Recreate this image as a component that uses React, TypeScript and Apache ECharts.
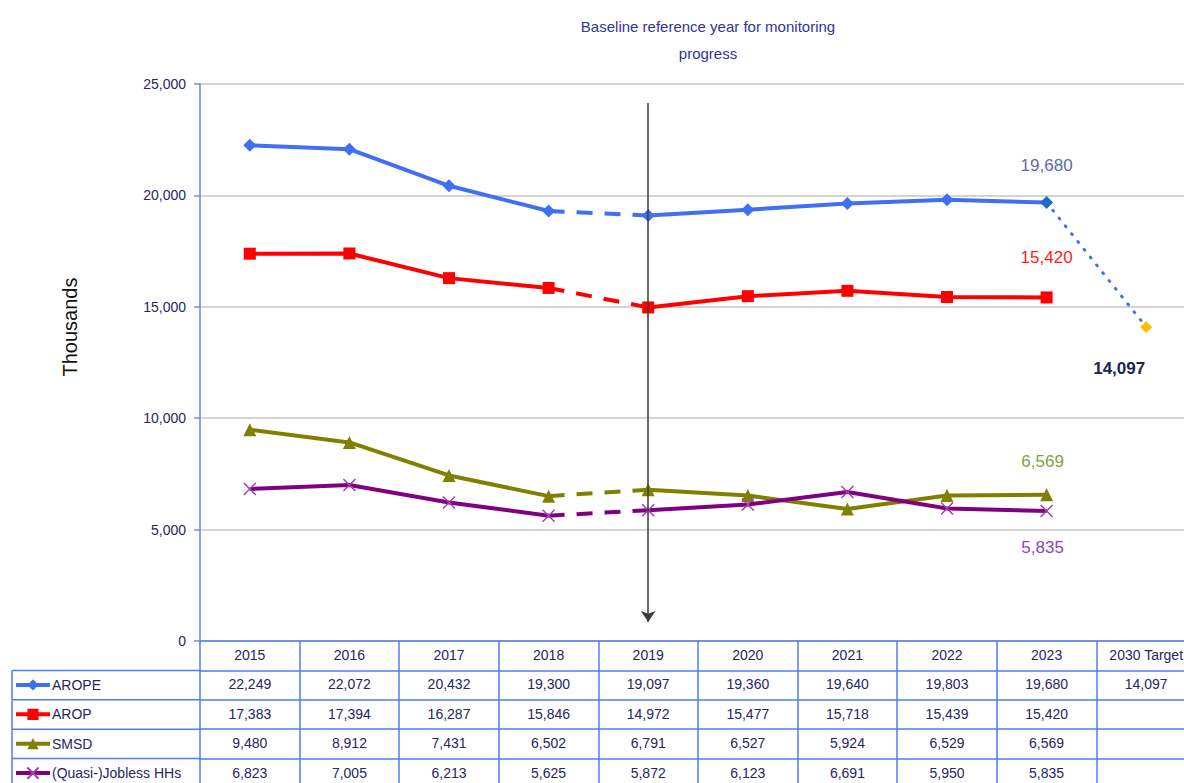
import React, { useEffect, useRef } from 'react';
import * as echarts from 'echarts';

const years = ['2015', '2016', '2017', '2018', '2019', '2020', '2021', '2022', '2023', '2030 Target'];
const arope = [22249, 22072, 20432, 19300, 19097, 19360, 19640, 19803, 19680];
const arop = [17383, 17394, 16287, 15846, 14972, 15477, 15718, 15439, 15420];
const smsd = [9480, 8912, 7431, 6502, 6791, 6527, 5924, 6529, 6569];
const jobless = [6823, 7005, 6213, 5625, 5872, 6123, 6691, 5950, 5835];
const aropeTarget = 14097;
const seriesNames = ['AROPE', 'AROP', 'SMSD', '(Quasi-)Jobless HHs'];
const yMin = 0;
const yMax = 25000;
const yInterval = 5000;
const baselineYear = '2019';
const arrowFrom = 24150;
const arrowTo = 850;

const fmt = (v: number | null | undefined) =>
  v === null || v === undefined ? '' : Number(v).toLocaleString('en-US');

const FONT = 'Arial, "Liberation Sans", sans-serif';
const NAVY = '#272562';
const TABLE_BLUE = '#4f7cf2';

const seg = (vals: number[], from: number, to: number) =>
  years.map((_, i) => (i >= from && i <= to && i < vals.length ? vals[i] : null));

type LabelCfg = { offset: number[]; color: string; fontWeight?: string };

function indicator(
  name: string,
  vals: number[],
  color: string,
  symbol: string,
  symbolSize: number,
  itemStyle: any,
  lastLabel: LabelCfg,
  lastItemStyle?: any
) {
  const base = {
    type: 'line',
    showSymbol: true,
    showAllSymbol: true,
    symbol,
    symbolSize,
    itemStyle,
    lineStyle: { color, width: 4 },
    emphasis: { disabled: true },
    z: 3,
  };
  const last = seg(vals, 4, 8).map((v, i) =>
    i === 8
      ? {
          value: v,
          itemStyle: lastItemStyle,
          label: {
            show: true,
            position: 'inside',
            offset: lastLabel.offset,
            color: lastLabel.color,
            fontSize: 17,
            fontFamily: FONT,
            fontWeight: lastLabel.fontWeight || 'normal',
            formatter: (p: any) => fmt(p.value),
          },
        }
      : v
  );
  return [
    { ...base, name, data: seg(vals, 0, 3) },
    {
      ...base,
      name: name + ' (series break)',
      data: seg(vals, 3, 4),
      symbol: 'none',
      lineStyle: { color, width: 4, type: [16, 12] },
    },
    { ...base, name, data: last },
  ];
}

const tableRows: (number | null)[][] = [
  [...arope, aropeTarget],
  [...arop, null],
  [...smsd, null],
  [...jobless, null],
];

const ROW_H = 29.4;

function buildOption(): any {
  const xAxes: any[] = [
    {
      type: 'category',
      data: years,
      boundaryGap: true,
      position: 'bottom',
      axisLine: { show: true, lineStyle: { color: TABLE_BLUE, width: 1.5 } },
      axisTick: { show: true, length: 142, lineStyle: { color: TABLE_BLUE, width: 1.5 } },
      axisLabel: { color: NAVY, fontSize: 14, fontFamily: FONT, margin: 7, interval: 0 },
      splitLine: { show: false },
    },
  ];
  tableRows.forEach((row, r) => {
    xAxes.push({
      type: 'category',
      data: years,
      boundaryGap: true,
      position: 'bottom',
      offset: ROW_H * (r + 1),
      axisLine: { show: true, lineStyle: { color: TABLE_BLUE, width: 1.5 } },
      axisTick: { show: false },
      axisLabel: {
        color: NAVY,
        fontSize: 14,
        fontFamily: FONT,
        margin: 7,
        interval: 0,
        formatter: (_: string, i: number) => fmt(row[i]),
      },
      splitLine: { show: false },
    });
  });

  const leftLines = tableRows.map((_, r) => ({
    type: 'line',
    shape: { x1: 12, y1: 641 + ROW_H * (r + 1), x2: 200, y2: 641 + ROW_H * (r + 1) },
    style: { stroke: TABLE_BLUE, lineWidth: 1.5 },
    silent: true,
  }));

  const legends = seriesNames.map((n, r) => ({
    data: [n],
    orient: 'horizontal',
    left: 14,
    top: 641 + ROW_H * (r + 1) + 7.5,
    itemWidth: 34,
    itemHeight: 14,
    padding: 0,
    selectedMode: false,
    lineStyle: { width: 4 },
    textStyle: { color: NAVY, fontSize: 14, fontFamily: FONT, lineHeight: 14, padding: [0, 0, 0, -3] },
  }));

  const aropeSeries = indicator(
    seriesNames[0], arope, '#3f6ff3', 'diamond', 13,
    { color: '#3f6ff3', borderWidth: 0 },
    { offset: [0, -37], color: '#5a6bab' },
    { color: '#1e6cbf' }
  );
  (aropeSeries[0] as any).markLine = {
    silent: true,
    symbol: ['none', 'arrow'],
    symbolSize: 11,
    label: { show: false },
    lineStyle: { color: '#3a3a3a', width: 1.5, type: 'solid' },
    emphasis: { disabled: true },
    data: [[{ coord: [baselineYear, arrowFrom] }, { coord: [baselineYear, arrowTo] }]],
  };

  const targetSeries = {
    type: 'line',
    name: 'AROPE 2030 target',
    showSymbol: true,
    showAllSymbol: true,
    symbol: 'diamond',
    symbolSize: 12,
    itemStyle: { color: '#ffc000', borderWidth: 0 },
    lineStyle: { color: '#3f6ff3', width: 3, type: [1, 9], cap: 'round' },
    emphasis: { disabled: true },
    z: 2,
    data: years.map((_, i) =>
      i === 8
        ? { value: arope[8], symbol: 'none' }
        : i === 9
        ? {
            value: aropeTarget,
            label: {
              show: true,
              position: 'inside',
              offset: [-27, 42],
              color: '#1c2450',
              fontSize: 17,
              fontWeight: 'bold',
              fontFamily: FONT,
              formatter: (p: any) => fmt(p.value),
            },
          }
        : null
    ),
  };

  return {
    animation: false,
    backgroundColor: '#ffffff',
    textStyle: { fontFamily: FONT },
    grid: { left: 200, right: 4, top: 84, bottom: 142, containLabel: false },
    legend: legends,
    xAxis: xAxes,
    yAxis: {
      type: 'value',
      min: yMin,
      max: yMax,
      interval: yInterval,
      axisLine: { show: true, lineStyle: { color: '#5b86f5', width: 1.5 } },
      axisTick: { show: true, length: 6, lineStyle: { color: '#7a8fc8', width: 1.5 } },
      axisLabel: { color: NAVY, fontSize: 14, fontFamily: FONT, margin: 14, formatter: (v: number) => fmt(v) },
      splitLine: { show: true, lineStyle: { color: '#c6c6c6', width: 1.5 } },
    },
    graphic: [
      {
        type: 'text',
        x: 708,
        y: 13,
        silent: true,
        style: {
          text: 'Baseline reference year for monitoring\nprogress',
          fill: '#33339a',
          font: '15px "Liberation Sans Narrow", "Arial Narrow", Arial, sans-serif',
          textAlign: 'center',
          lineHeight: 27,
        },
      },
      {
        type: 'text',
        x: 70,
        y: 327,
        rotation: Math.PI / 2,
        silent: true,
        style: {
          text: 'Thousands',
          fill: '#111111',
          font: '20px Arial, "Liberation Sans", sans-serif',
          textAlign: 'center',
          textVerticalAlign: 'middle',
        },
      },
      ...leftLines,
      {
        type: 'line',
        shape: { x1: 12, y1: 641 + ROW_H, x2: 12, y2: 800 },
        style: { stroke: TABLE_BLUE, lineWidth: 1.5 },
        silent: true,
      },
    ],
    series: [
      ...aropeSeries,
      targetSeries,
      ...indicator(
        seriesNames[1], arop, '#ff0000', 'rect', 12,
        { color: '#ff0000', borderWidth: 0 },
        { offset: [0, -40], color: '#ff1a1a' }
      ),
      ...indicator(
        seriesNames[2], smsd, '#808000', 'triangle', 13,
        { color: '#808000', borderWidth: 0 },
        { offset: [-4, -33], color: '#7f9f3f' }
      ),
      ...indicator(
        seriesNames[3], jobless, '#800080', 'path://M0,0L10,10M10,0L0,10', 12,
        { color: '#a23fb0', borderColor: '#a23fb0', borderWidth: 1.5 },
        { offset: [-4, 37], color: '#8a45c4' }
      ),
    ],
  };
}

export default function App() {
  const ref = useRef<HTMLDivElement>(null);
  useEffect(() => {
    if (!ref.current) return;
    const chart = echarts.init(ref.current, null, { renderer: 'svg' });
    chart.setOption(buildOption());
    return () => chart.dispose();
  }, []);
  return (
    <div
      style={{
        position: 'fixed',
        left: 0,
        top: 0,
        width: 1184,
        height: 783,
        overflow: 'hidden',
        background: '#fff',
      }}
    >
      <div ref={ref} style={{ width: 1200, height: 783 }} />
    </div>
  );
}
